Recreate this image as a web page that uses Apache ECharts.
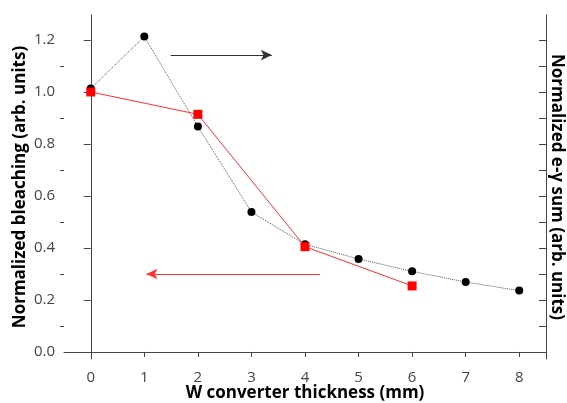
<!DOCTYPE html>
<html>
<head>
<meta charset="utf-8">
<script src="https://cdn.jsdelivr.net/npm/echarts@6/dist/echarts.min.js"></script>
<style>html,body{margin:0;padding:0;background:#fff;}#c{width:567px;height:403px;}</style>
</head>
<body>
<div id="c"></div>
<script>
// Data
var thickness = [0, 1, 2, 3, 4, 5, 6, 7, 8];
var eySum = [1.013, 1.213, 0.867, 0.538, 0.414, 0.358, 0.310, 0.269, 0.236];
var bleachX = [0, 2, 4, 6];
var bleach = [1.0, 0.914, 0.405, 0.254];
var xTicks = [0, 1, 2, 3, 4, 5, 6, 7, 8];
var yMajor = [0, 0.2, 0.4, 0.6, 0.8, 1.0, 1.2];
var yMinor = [0.1, 0.3, 0.5, 0.7, 0.9, 1.1];
var yAll = [0, 0.1, 0.2, 0.3, 0.4, 0.5, 0.6, 0.7, 0.8, 0.9, 1.0, 1.1, 1.2];
var blackArrow = [[1.49, 1.142], [3.38, 1.142]];
var redArrow = [[4.28, 0.30], [1.04, 0.30]];

var FONT = '"Open Sans", "Noto Sans", sans-serif';
var axisCol = '#444';
var yMin = -0.027, yMax = 1.296;

var chart = echarts.init(document.getElementById('c'), null, {renderer: 'canvas'});
chart.setOption({
  animation: false,
  backgroundColor: '#fff',
  grid: {left: 64, right: 21, top: 15, bottom: 44, containLabel: false, outerBoundsMode: 'none'},
  xAxis: {
    type: 'value', min: -0.5, max: 8.5,
    name: 'W converter thickness (mm)', nameLocation: 'middle', nameGap: 26, nameMoveOverlap: false,
    nameTextStyle: {fontFamily: FONT, fontWeight: 'bold', fontSize: 17, color: '#000'},
    axisLine: {show: true, lineStyle: {color: axisCol, width: 1}},
    axisTick: {show: true, customValues: xTicks, length: 5, inside: false, lineStyle: {color: axisCol}},
    axisLabel: {show: true, customValues: xTicks, fontFamily: FONT, fontSize: 15, color: axisCol, margin: 11},
    splitLine: {show: false}
  },
  yAxis: [
    {
      type: 'value', position: 'left', min: yMin, max: yMax,
      name: 'Normalized bleaching (arb. units)', nameLocation: 'middle', nameGap: 35, nameRotate: 90,
      nameMoveOverlap: false,
      nameTextStyle: {fontFamily: FONT, fontWeight: 'bold', fontSize: 17, color: '#000'},
      axisLine: {show: true, lineStyle: {color: axisCol, width: 1}},
      axisTick: {show: true, customValues: yMajor, length: 7, inside: false, lineStyle: {color: axisCol}},
      axisLabel: {show: true, customValues: yMajor, fontFamily: FONT, fontSize: 15, color: axisCol, margin: 9,
        formatter: function (v) { return v.toFixed(1); }},
      splitLine: {show: false}
    },
    {
      type: 'value', position: 'left', min: yMin, max: yMax,
      axisLine: {show: false},
      axisTick: {show: true, customValues: yMinor, length: 4, inside: false, lineStyle: {color: axisCol}},
      axisLabel: {show: false},
      splitLine: {show: false}
    },
    {
      type: 'value', position: 'right', min: yMin, max: yMax,
      name: 'Normalized e-γ sum (arb. units)', nameLocation: 'middle', nameGap: 2, nameRotate: -90,
      nameMoveOverlap: false,
      nameTextStyle: {fontFamily: FONT, fontWeight: 'bold', fontSize: 17, color: '#000'},
      axisLine: {show: true, lineStyle: {color: axisCol, width: 1}},
      axisTick: {show: true, customValues: yAll, length: 7, inside: true, lineStyle: {color: axisCol}},
      axisLabel: {show: false},
      splitLine: {show: false}
    }
  ],
  series: [
    {
      name: 'e-γ sum', type: 'line', yAxisIndex: 2,
      data: thickness.map(function (x, i) { return [x, eySum[i]]; }),
      symbol: 'circle', symbolSize: 8,
      itemStyle: {color: '#000'},
      lineStyle: {color: '#555', width: 1, type: 'dotted'},
      markLine: {
        silent: true, symbol: ['none', 'arrow'], symbolSize: [8, 11],
        label: {show: false},
        lineStyle: {color: '#333', width: 1.2, type: 'solid'},
        data: [[{coord: blackArrow[0]}, {coord: blackArrow[1]}]]
      },
      z: 2
    },
    {
      name: 'bleaching', type: 'line', yAxisIndex: 0,
      data: bleachX.map(function (x, i) { return [x, bleach[i]]; }),
      symbol: 'rect', symbolSize: 9,
      itemStyle: {color: '#ff0000'},
      lineStyle: {color: '#ff3030', width: 1},
      markLine: {
        silent: true, symbol: ['none', 'arrow'], symbolSize: [8, 11],
        label: {show: false},
        lineStyle: {color: '#ff3030', width: 1.2, type: 'solid'},
        itemStyle: {color: '#ff0000'},
        data: [[{coord: redArrow[0]}, {coord: redArrow[1]}]]
      },
      z: 3
    }
  ]
});
</script>
</body>
</html>
